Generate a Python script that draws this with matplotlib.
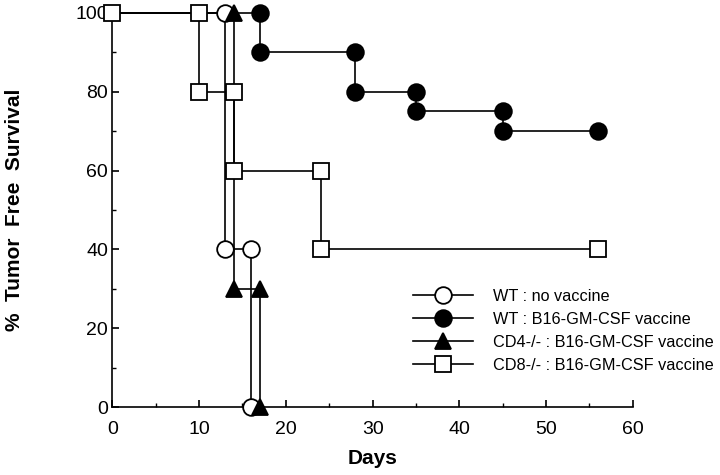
import matplotlib.pyplot as plt
from matplotlib.ticker import MultipleLocator

plt.rcParams['font.family'] = ['Liberation Sans', 'DejaVu Sans']

# Kaplan-Meier style step data (day, % tumor free)
wt_novac_days = [0, 13, 13, 16, 16]
wt_novac_surv = [100, 100, 40, 40, 0]

wt_vac_days = [0, 17, 17, 28, 28, 35, 35, 45, 45, 56]
wt_vac_surv = [100, 100, 90, 90, 80, 80, 75, 75, 70, 70]

cd4_days = [0, 14, 14, 17, 17]
cd4_surv = [100, 100, 30, 30, 0]

cd8_days = [0, 10, 10, 14, 14, 24, 24, 56]
cd8_surv = [100, 100, 80, 80, 60, 60, 40, 40]

# which points carry a marker (the leading 0-day point is shared by squares only)
wt_novac_mark = [1, 2, 3, 4]
wt_vac_mark = [1, 2, 3, 4, 5, 6, 7, 8, 9]
cd4_mark = [1, 2, 3, 4]
cd8_mark = [0, 1, 2, 3, 4, 5, 6, 7]

labels = ['WT : no vaccine', 'WT : B16-GM-CSF vaccine',
          'CD4-/- : B16-GM-CSF vaccine', 'CD8-/- : B16-GM-CSF vaccine']

fig = plt.figure(figsize=(7.2, 4.75), dpi=100)
ax = fig.add_axes([0.156, 0.143, 0.723, 0.830])

lw = 1.2
series = [
    (wt_novac_days, wt_novac_surv, wt_novac_mark, 'o', 'white', 12),
    (wt_vac_days, wt_vac_surv, wt_vac_mark, 'o', 'black', 12),
    (cd4_days, cd4_surv, cd4_mark, '^', 'black', 12),
    (cd8_days, cd8_surv, cd8_mark, 's', 'white', 11.5),
]
handles = []
for (d, s, m, mk, fc, ms), lab in zip(series, labels):
    ax.plot(d, s, color='black', lw=lw, clip_on=False, zorder=2)
    ax.plot([d[i] for i in m], [s[i] for i in m], ls='none', marker=mk,
            mfc=fc, mec='black', mew=1.3, ms=ms, clip_on=False, zorder=3)
    h, = ax.plot([], [], color='black', lw=lw, marker=mk, mfc=fc,
                 mec='black', mew=1.3, ms=ms)
    handles.append(h)

ax.set_xlim(0, 60)
ax.set_ylim(0, 100)
ax.spines['top'].set_visible(False)
ax.spines['right'].set_visible(False)
ax.spines['left'].set_linewidth(1.2)
ax.spines['bottom'].set_linewidth(1.2)

ax.xaxis.set_major_locator(MultipleLocator(10))
ax.xaxis.set_minor_locator(MultipleLocator(5))
ax.yaxis.set_major_locator(MultipleLocator(20))
ax.yaxis.set_minor_locator(MultipleLocator(10))
ax.tick_params(which='major', direction='in', length=5, width=1.2, labelsize=14)
ax.tick_params(which='minor', direction='in', length=3, width=1.0)
ax.tick_params(axis='x', pad=10)
ax.tick_params(axis='y', pad=3)

ax.set_xlabel('Days', fontsize=15, fontweight='bold', labelpad=8)
ax.set_ylabel('%  Tumor  Free  Survival', fontsize=15, fontweight='bold', labelpad=37)

ax.legend(handles, labels, loc='lower left', bbox_to_anchor=(0.565, 0.07),
          frameon=False, fontsize=11.7, handlelength=3.7, handletextpad=1.2,
          labelspacing=0.5, borderaxespad=0)

fig.savefig('out.png', dpi=100)
